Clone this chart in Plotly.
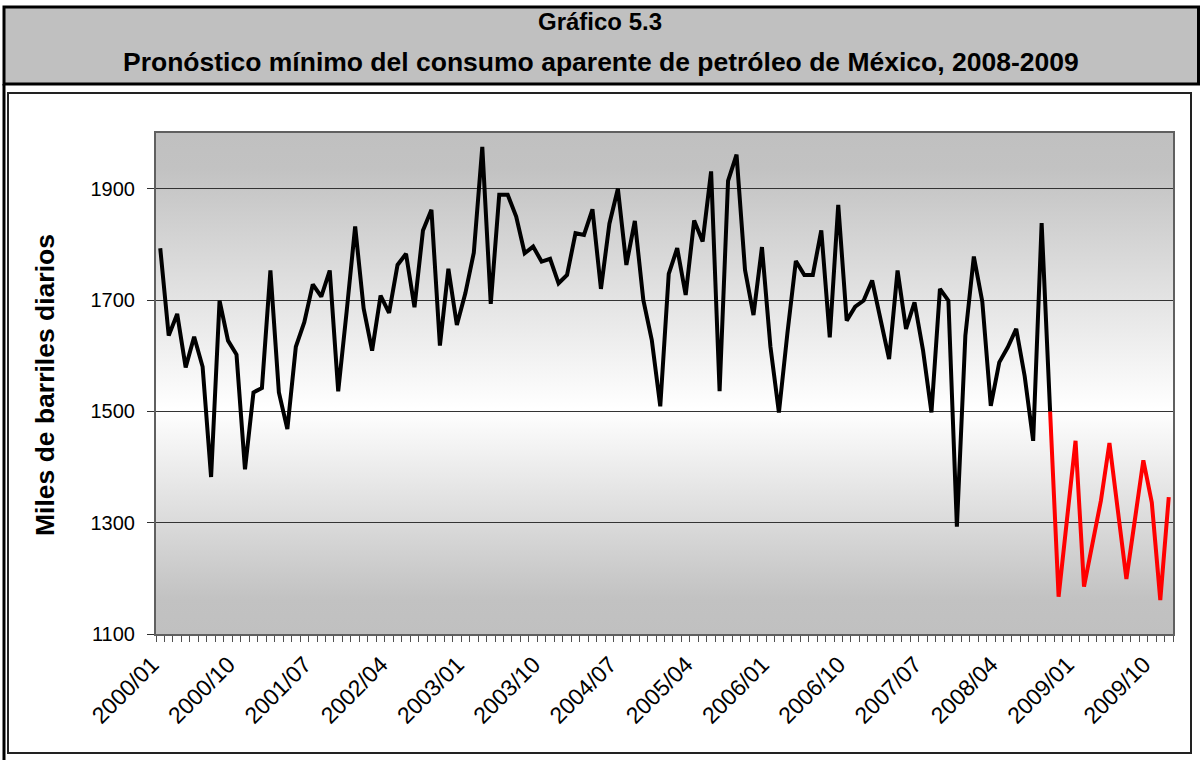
import base64
import plotly.graph_objects as go

# Monthly periods 2000/01 - 2009/12
years = list(range(2000, 2010))
months = [f"{y}/{m:02d}" for y in years for m in range(1, 13)]

# Observed apparent consumption (miles de barriles diarios), 2000/01 - 2008/10
observado = [
    1793, 1636, 1675, 1579, 1634, 1580, 1382, 1699, 1627, 1602,
    1396, 1534, 1542, 1753, 1534, 1468, 1616, 1660, 1728, 1706,
    1753, 1536, 1680, 1832, 1685, 1609, 1708, 1677, 1763, 1783,
    1687, 1825, 1862, 1618, 1756, 1655, 1712, 1785, 1975, 1693,
    1889, 1889, 1850, 1784, 1796, 1769, 1774, 1730, 1745, 1820,
    1817, 1863, 1720, 1837, 1900, 1763, 1842, 1700, 1628, 1509,
    1747, 1793, 1709, 1843, 1805, 1931, 1536, 1914, 1961, 1754,
    1673, 1795, 1616, 1498, 1640, 1770, 1745, 1745, 1825, 1633,
    1871, 1663, 1688, 1699, 1735, 1665, 1594, 1753, 1648, 1696,
    1610, 1498, 1720, 1699, 1293, 1636, 1778, 1697, 1510, 1588,
    1615, 1648, 1563, 1447, 1838, 1500,
]

# Minimum forecast, 2008/10 - 2009/12
pronostico = [
    1500, 1167, 1307, 1447, 1185, 1262, 1340, 1443, 1321, 1199,
    1305, 1412, 1336, 1161, 1346,
]

tick_labels = [
    "2000/01", "2000/10", "2001/07", "2002/04", "2003/01", "2003/10", "2004/07",
    "2005/04", "2006/01", "2006/10", "2007/07", "2008/04", "2009/01", "2009/10",
]
y_ticks = [1100, 1300, 1500, 1700, 1900]

x_obs = list(range(len(observado)))
x_pro = list(range(len(observado) - 1, len(observado) - 1 + len(pronostico)))
tick_pos = [months.index(t) for t in tick_labels]

W, H = 1200, 760
L, R, T, B = 156, 27, 133, 126
PW, PH = W - L - R, H - T - B
FONT = "Arial, Liberation Sans"


def px(xp):
    return (xp - L) / PW


def py(yp):
    return (H - B - yp) / PH


fig = go.Figure()
fig.add_trace(go.Scatter(x=x_pro, y=pronostico, mode="lines",
                         line=dict(color="#ff0000", width=4), hoverinfo="skip"))
fig.add_trace(go.Scatter(x=x_obs, y=observado, mode="lines",
                         line=dict(color="#000000", width=4), hoverinfo="skip"))

# Plot-area vertical gradient (grey - white - grey)
svg = (
    '<svg xmlns="http://www.w3.org/2000/svg" width="100" height="100" '
    'preserveAspectRatio="none"><defs><linearGradient id="g" x1="0" y1="0" x2="0" y2="1">'
    '<stop offset="0" stop-color="#c0c0c0"/><stop offset="0.07" stop-color="#c2c2c2"/>'
    '<stop offset="0.55" stop-color="#ffffff"/><stop offset="0.93" stop-color="#c2c2c2"/>'
    '<stop offset="1" stop-color="#c0c0c0"/></linearGradient></defs>'
    '<rect width="100" height="100" fill="url(#g)"/></svg>'
)
bg_uri = "data:image/svg+xml;base64," + base64.b64encode(svg.encode()).decode()

shapes = [
    # heading box
    dict(type="rect", xref="paper", yref="paper", x0=px(4), x1=px(1198.5), y0=py(84), y1=py(7),
         fillcolor="#c0c0c0", line=dict(color="#000000", width=3), layer="below"),
    # outer left rule
    dict(type="line", xref="paper", yref="paper", x0=px(4), x1=px(4), y0=py(84), y1=py(762),
         line=dict(color="#000000", width=3), layer="below"),
    # chart frame
    dict(type="rect", xref="paper", yref="paper", x0=px(8), x1=px(1191), y0=py(753), y1=py(93),
         fillcolor="rgba(0,0,0,0)", line=dict(color="#222222", width=2), layer="below"),
]

annotations = [
    dict(text="<b>Gráfico 5.3</b>", xref="paper", yref="paper", x=px(600), y=py(21),
         xanchor="center", yanchor="middle", showarrow=False,
         font=dict(family=FONT, size=24, color="#000000")),
    dict(text="<b>Pronóstico mínimo del consumo aparente de petróleo de México, 2008-2009</b>",
         xref="paper", yref="paper", x=px(601), y=py(62), xanchor="center", yanchor="middle",
         showarrow=False, font=dict(family=FONT, size=26.5, color="#000000")),
    dict(text="<b>Miles de barriles diarios</b>", xref="paper", yref="paper", x=px(45), y=py(385),
         xanchor="center", yanchor="middle", textangle=-90, showarrow=False,
         font=dict(family=FONT, size=26.5, color="#000000")),
]

fig.update_layout(
    width=W, height=H,
    margin=dict(l=L, r=R, t=T, b=B, pad=0),
    paper_bgcolor="#ffffff",
    plot_bgcolor="#ffffff",
    showlegend=False,
    shapes=shapes,
    annotations=annotations,
    images=[dict(source=bg_uri, xref="paper", yref="paper", x=0, y=1, sizex=1, sizey=1,
                 xanchor="left", yanchor="top", sizing="stretch", layer="below")],
    font=dict(family=FONT, color="#000000"),
)

fig.update_xaxes(
    range=[-0.5, len(months) - 0.5],
    tickmode="array", tickvals=tick_pos, ticktext=tick_labels, tickangle=-45,
    ticks="outside", ticklen=6, tickcolor="rgba(0,0,0,0)",
    ticklabelshift=-8,
    tickfont=dict(family=FONT, size=23, color="#000000"),
    minor=dict(tick0=-0.5, dtick=1, ticks="outside", ticklen=6, tickcolor="#505050",
               tickwidth=1, showgrid=False),
    showgrid=False, zeroline=False,
    showline=True, linecolor="#606060", linewidth=2, mirror=True,
)
fig.update_yaxes(
    range=[1100, 2000],
    tickmode="array", tickvals=y_ticks,
    ticks="outside", ticklen=7, tickcolor="#303030",
    ticklabelstandoff=8,
    tickfont=dict(family=FONT, size=20, color="#000000"),
    showgrid=True, gridcolor="#333333", gridwidth=1, zeroline=False,
    showline=True, linecolor="#606060", linewidth=2, mirror=True,
)

fig.write_html("out.html")
